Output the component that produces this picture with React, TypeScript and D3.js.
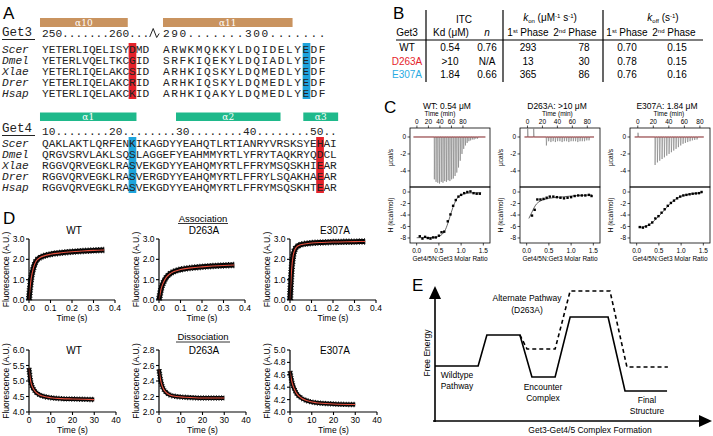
import React from "react";
import * as d3 from "d3";

const SANS = "'Liberation Sans', Arial, Helvetica, sans-serif";
const MONO = "'Liberation Mono', 'Courier New', monospace";
const RED = "#e5232b";
const BLUE = "#1ea4dc";
const TAN = "#c9935f";
const GREEN = "#1fb98b";
const FITRED = "#e5503e";

// ---------------- Panel A data ----------------
const speciesNames = ["Scer", "Dmel", "Xlae", "Drer", "Hsap"];
const get3NumberingA = "250.......260...";
const get3NumberingB = "290.......300.......";
const get3SeqA = ["YETERLIQELISYDMD", "YETERLVQELTKCGID", "YETERLIQELAKCSID", "YETERLIQELAKCRID", "YETERLIQELAKCKID"];
const get3SeqB = ["ARWKMQKKYLDQIDELYEDF", "SRFKIQEKYLDQIADLYEDF", "ARHKIQSKYLDQMEDLYEDF", "ARHKIQSKYLDQMEDLYEDF", "ARHKIQAKYLDQMEDLYEDF"];
const get4Numbering = "10........20........30........40........50..";
const get4Seqs = [
  "QAKLAKTLQRFENKIKAGDYYEAHQTLRTIANRYVRSKSYEHAI",
  "QRGVSRVLAKLSQSLAGGEFYEAHMMYRTLYFRYTAQKRYQDCL",
  "RGGVQRVEGKLRASVEKGDYYEAHQMYRTLFFRYMSQSKHIEAR",
  "RGGVQRVEGKLRASVERGDYYEAHQMYRTLFFRYLSQAKHAEAR",
  "RGGVQRVEGKLRASVEKGDYYEAHQMYRTLFFRYMSQSKHTEAR",
];
const get3HelixLabels = ["α10", "α11"];
const get3HelixBlock = [0, 1];
const get3HelixStart = [-0.3, 0];
const get3HelixEnd = [12.8, 15.8];
const get4HelixLabels = ["α1", "α2", "α3"];
const get4HelixStart = [-0.3, 20, 39];
const get4HelixEnd = [14.1, 35.6, 44.2];
const get3MarkBlock = [0, 1];
const get3MarkIndex = [13, 17];
const get3MarkColor = [RED, BLUE];
const get4MarkIndex = [13, 41];
const get4MarkColor = [BLUE, RED];

// ---------------- Panel B data ----------------
const tableVariants = ["WT", "D263A", "E307A"];
const tableVariantColors = ["#000", RED, "#29abe2"];
const tableKd = ["0.54", ">10", "1.84"];
const tableN = ["0.76", "N/A", "0.66"];
const tableKon1 = ["293", "13", "365"];
const tableKon2 = ["78", "30", "86"];
const tableKoff1 = ["0.70", "0.78", "0.76"];
const tableKoff2 = ["0.15", "0.15", "0.16"];

// ---------------- Panel C data ----------------
const itcTitles = ["WT: 0.54 μM", "D263A: >10 μM", "E307A: 1.84 μM"];
const timeTicks = [0, 20, 40, 60, 80];
const ratioTicks = [0, 0.5, 1.0, 1.5];
const powerTicks = [0, -2, -4];
const heatTicks = [0, -2, -4, -6, -8];

const wtInjTimes = [30, 33, 36, 39, 42, 45, 48, 51, 54, 57, 60, 63, 66, 69, 72, 75, 78, 81, 84, 87, 90, 93, 96, 99, 102, 105];
const wtInjDepths = [-5.0, -5.3, -5.4, -5.5, -5.3, -5.4, -5.2, -5.3, -5.1, -5.2, -5.0, -4.9, -4.6, -4.2, -3.6, -2.8, -2.0, -1.4, -1.0, -0.7, -0.5, -0.4, -0.3, -0.3, -0.2, -0.2];
const d263InjTimes = [0, 8, 25, 28, 31, 34, 37, 40, 43, 46, 49, 52, 55, 58, 61, 64, 67, 70, 73, 76, 79, 82];
const d263InjDepths = [1.2, 1.0, -1.0, -0.5, -0.6, -0.5, -0.6, -0.5, -0.5, -0.6, -0.5, -0.5, -0.6, -0.5, -0.5, -0.5, -0.6, -0.5, -0.5, -0.5, -0.4, -0.4];
const e307InjTimes = [0, 22, 25, 28, 31, 34, 37, 40, 43, 46, 49, 52, 55, 58, 61, 64, 67, 70, 73, 76];
const e307InjDepths = [0.5, -3.3, -3.0, -2.8, -2.6, -2.4, -2.2, -2.0, -1.8, -1.6, -1.4, -1.2, -1.0, -0.8, -0.7, -0.6, -0.5, -0.4, -0.35, -0.3];

const wtRatio = [0.07, 0.13, 0.19, 0.25, 0.31, 0.37, 0.43, 0.5, 0.56, 0.62, 0.7, 0.76, 0.82, 0.88, 0.94, 1.0, 1.07, 1.14, 1.21, 1.28, 1.35, 1.42];
const wtHeat = [-7.7, -8.1, -7.8, -8.0, -8.1, -7.9, -7.9, -7.6, -7.0, -6.9, -5.1, -3.9, -2.4, -1.4, -0.8, -0.5, -0.2, 0.0, 0.1, -0.2, -0.3, -0.3];
const wtFitRatio = [0.0, 0.4, 0.55, 0.65, 0.72, 0.78, 0.85, 0.92, 1.0, 1.1, 1.25, 1.45];
const wtFitHeat = [-7.95, -7.9, -7.5, -6.5, -5.0, -3.5, -2.0, -1.0, -0.5, -0.25, -0.15, -0.1];

const d263Ratio = [0.12, 0.18, 0.24, 0.31, 0.38, 0.45, 0.52, 0.6, 0.68, 0.76, 0.84, 0.92, 1.0, 1.08, 1.16, 1.24, 1.32, 1.4, 1.46];
const d263Heat = [-4.1, -3.1, -1.3, -1.3, -1.2, -1.0, -0.8, -0.8, -0.9, -1.0, -1.1, -1.0, -0.9, -0.7, -0.6, -0.6, -0.6, -0.5, -0.7];
const d263FitRatio = [0.05, 0.1, 0.15, 0.2, 0.3, 0.4, 0.6, 0.8, 1.0, 1.2, 1.47];
const d263FitHeat = [-4.6, -3.8, -3.0, -2.3, -1.6, -1.3, -1.0, -0.85, -0.7, -0.6, -0.5];

const e307Ratio = [0.07, 0.14, 0.21, 0.28, 0.35, 0.42, 0.49, 0.56, 0.63, 0.7, 0.77, 0.84, 0.91, 0.98, 1.05, 1.12, 1.19, 1.26, 1.33, 1.4, 1.46];
const e307Heat = [-6.1, -6.2, -6.0, -5.7, -5.3, -4.6, -4.2, -3.6, -3.0, -2.4, -1.9, -1.5, -1.1, -0.8, -0.6, -0.5, -0.4, -0.3, -0.25, -0.2, 0.0];
const e307FitRatio = [0.05, 0.15, 0.25, 0.35, 0.45, 0.55, 0.65, 0.75, 0.85, 0.95, 1.05, 1.2, 1.46];
const e307FitHeat = [-6.15, -6.05, -5.8, -5.3, -4.6, -3.8, -2.9, -2.1, -1.4, -0.9, -0.6, -0.35, -0.15];

// ---------------- Panel D data ----------------
const wtAssocT = [0, 0.005, 0.01, 0.02, 0.03, 0.04, 0.05, 0.07, 0.1, 0.15, 0.2, 0.25, 0.3, 0.35];
const wtAssocF = [0, 0.6, 1.05, 1.55, 1.85, 2.0, 2.08, 2.17, 2.25, 2.32, 2.37, 2.41, 2.44, 2.46];
const d263AssocT = [0, 0.005, 0.01, 0.02, 0.03, 0.05, 0.07, 0.1, 0.15, 0.2, 0.25, 0.3, 0.35];
const d263AssocF = [0, 0.3, 0.55, 0.85, 1.05, 1.28, 1.4, 1.5, 1.58, 1.63, 1.67, 1.7, 1.72];
const e307AssocT = [0, 0.005, 0.01, 0.015, 0.02, 0.03, 0.05, 0.1, 0.15, 0.2, 0.3, 0.35];
const e307AssocF = [0, 1.1, 1.8, 2.2, 2.4, 2.6, 2.72, 2.8, 2.83, 2.85, 2.87, 2.88];
const wtDissT = [0, 0.5, 1, 2, 3, 5, 7, 10, 15, 20, 30];
const wtDissF = [5.42, 5.1, 4.92, 4.75, 4.65, 4.55, 4.5, 4.46, 4.43, 4.42, 4.4];
const d263DissT = [0, 0.5, 1, 2, 3, 5, 8, 12, 20, 30];
const d263DissF = [2.55, 2.45, 2.38, 2.3, 2.26, 2.22, 2.2, 2.19, 2.18, 2.18];
const e307DissT = [0, 0.5, 1, 2, 3, 5, 8, 12, 20, 30];
const e307DissF = [4.66, 4.55, 4.47, 4.37, 4.3, 4.23, 4.18, 4.15, 4.13, 4.12];
const assocXTicks = [0, 0.1, 0.2, 0.3, 0.4];
const assocYTicks = [0, 1, 2, 3];
const dissXTicks = [0, 10, 20, 30, 40];
const wtDissYTicks = [4.0, 4.5, 5.0, 5.5, 6.0];
const d263DissYTicks = [2.0, 2.2, 2.4, 2.6, 2.8];
const e307DissYTicks = [4.0, 4.2, 4.4, 4.6, 4.8, 5.0];

// ---------------- Panel E data ----------------
const wtPathX = [0, 15.8, 19, 31.1, 35.5, 44, 49.5, 63.4, 69.6, 85];
const wtPathY = [41.5, 41.5, 65.4, 65.4, 33.1, 33.1, 79.2, 79.2, 22.3, 22.3];
const altPathX = [31.1, 33.7, 44, 49.5, 64.1, 70.3, 85.3];
const altPathY = [65.4, 54.6, 54.6, 99.2, 99.2, 40.8, 40.8];

function zip(xs: number[], ys: number[]) {
  return xs.map((x, i) => [x, ys[i]] as [number, number]);
}

// ============ Panel A ============
function PanelA() {
  const cw = 6.7;
  const cw2 = 8.2;
  const xA = d3.scaleLinear().domain([0, 1]).range([42, 42 + cw]);
  const xB = d3.scaleLinear().domain([0, 1]).range([163, 163 + cw2]);
  const blockX = [xA, xB];
  const blockW = [cw, cw2];
  const row3 = d3.scaleLinear().domain([0, 4]).range([53, 97]);
  const row4 = d3.scaleLinear().domain([0, 4]).range([147, 191]);
  const fs = cw / 0.6;
  const seqText = (s: string, x: number, y: number, key: string, w = cw, italic = false) => (
    <text key={key} x={x} y={y} fontFamily={MONO} fontSize={fs} fontStyle={italic ? "italic" : "normal"} textLength={s.length * w - (w - cw)} lengthAdjust="spacing" fill="#222">
      {s}
    </text>
  );
  return (
    <g>
      <text x={3} y={19} fontSize={17} fontFamily={SANS}>A</text>
      {get3HelixLabels.map((l, i) => {
        const sc = blockX[get3HelixBlock[i]];
        const x0 = sc(get3HelixStart[i]);
        const x1 = sc(get3HelixEnd[i]);
        return (
          <g key={l}>
            <rect x={x0} y={18} width={x1 - x0} height={9} fill={TAN} />
            <text x={(x0 + x1) / 2} y={25.5} textAnchor="middle" fontSize={9} fontFamily="'DejaVu Serif', serif" fill="#fff">{l}</text>
          </g>
        );
      })}
      {get3MarkIndex.map((idx, i) => {
        const b = get3MarkBlock[i];
        const sc = blockX[b];
        const w = blockW[b];
        return <rect key={i} x={sc(idx) + (w - cw) / 2 - 0.5} y={43} width={cw + 1} height={56} fill={get3MarkColor[i]} />;
      })}
      <text x={2} y={36} fontFamily={MONO} fontSize={12.5} fill="#222">Get3</text>
      <line x1={2} x2={35} y1={39.5} y2={39.5} stroke="#222" strokeWidth={1} />
      {seqText(get3NumberingA, xA(0), 37, "n3a")}
      <polyline points={`${xA(16) + 0.5},37 ${xA(16) + 4},28.5 ${xA(16) + 7.5},37.5 ${xA(16) + 10},33.5`} fill="none" stroke="#222" strokeWidth={1} />
      {seqText(get3NumberingB, xB(0), 37, "n3b", cw2)}
      {speciesNames.map((s, i) => seqText(s, 2, row3(i), "s3" + i, cw, true))}
      {get3SeqA.map((s, i) => seqText(s, xA(0), row3(i), "a" + i))}
      {get3SeqB.map((s, i) => seqText(s, xB(0), row3(i), "b" + i, cw2))}

      {get4HelixLabels.map((l, i) => {
        const x0 = xA(get4HelixStart[i]);
        const x1 = xA(get4HelixEnd[i]);
        return (
          <g key={l}>
            <rect x={x0} y={112.5} width={x1 - x0} height={8.5} fill={GREEN} />
            <text x={(x0 + x1) / 2} y={119.5} textAnchor="middle" fontSize={9} fontFamily="'DejaVu Serif', serif" fill="#fff">{l}</text>
          </g>
        );
      })}
      {get4MarkIndex.map((idx, i) => (
        <rect key={i} x={xA(idx) - 0.5} y={137} width={cw + 1} height={56} fill={get4MarkColor[i]} />
      ))}
      <text x={2} y={132} fontFamily={MONO} fontSize={12.5} fill="#222">Get4</text>
      <line x1={2} x2={35} y1={135.5} y2={135.5} stroke="#222" strokeWidth={1} />
      {seqText(get4Numbering, xA(0), 135, "n4")}
      {speciesNames.map((s, i) => seqText(s, 2, row4(i), "s4" + i, cw, true))}
      {get4Seqs.map((s, i) => seqText(s, xA(0), row4(i), "g4" + i))}
    </g>
  );
}

// ============ Panel B ============
function PanelB() {
  const fs = 10;
  const rowY = d3.scaleLinear().domain([0, 2]).range([51, 78]);
  const cols = [
    { x: 450, vals: tableKd },
    { x: 487, vals: tableN },
    { x: 528, vals: tableKon1 },
    { x: 584, vals: tableKon2 },
    { x: 627, vals: tableKoff1 },
    { x: 677, vals: tableKoff2 },
  ];
  return (
    <g fontFamily={SANS} fontSize={fs}>
      <text x={393} y={19} fontSize={17}>B</text>
      {[426, 503, 603].map((x) => (
        <line key={x} x1={x} x2={x} y1={10} y2={82} stroke="#000" strokeWidth={1.2} />
      ))}
      <line x1={396} x2={703} y1={40} y2={40} stroke="#000" strokeWidth={1.2} />
      <text x={464} y={23} textAnchor="middle">ITC</text>
      <text x={550} y={21} textAnchor="middle">
        <tspan fontStyle="italic">k</tspan>
        <tspan fontSize={6} dy={2}>on</tspan>
        <tspan dy={-2}> (μM</tspan>
        <tspan fontSize={6} dy={-3}>-1</tspan>
        <tspan dy={3}> s</tspan>
        <tspan fontSize={6} dy={-3}>-1</tspan>
        <tspan dy={3}>)</tspan>
      </text>
      <text x={663} y={21} textAnchor="middle">
        <tspan fontStyle="italic">k</tspan>
        <tspan fontSize={6} dy={2}>off</tspan>
        <tspan dy={-2}> (s</tspan>
        <tspan fontSize={6} dy={-3}>-1</tspan>
        <tspan dy={3}>)</tspan>
      </text>
      <text x={407} y={36} textAnchor="middle">Get3</text>
      <text x={451} y={36} textAnchor="middle">Kd (μM)</text>
      <text x={487} y={36} textAnchor="middle" fontStyle="italic">n</text>
      {[
        { x: 528, s: "st" },
        { x: 575, s: "nd" },
        { x: 627, s: "st" },
        { x: 674, s: "nd" },
      ].map((h, i) => (
        <text key={i} x={h.x} y={36} textAnchor="middle">
          <tspan>{h.s === "st" ? "1" : "2"}</tspan>
          <tspan fontSize={6} dy={-3}>{h.s}</tspan>
          <tspan dy={3}> Phase</tspan>
        </text>
      ))}
      {tableVariants.map((v, i) => (
        <text key={v} x={407} y={rowY(i)} textAnchor="middle" fill={tableVariantColors[i]}>{v}</text>
      ))}
      {cols.map((c, ci) =>
        c.vals.map((v, i) => (
          <text key={ci + "-" + i} x={c.x} y={rowY(i)} textAnchor="middle">{v}</text>
        ))
      )}
    </g>
  );
}

// ============ Panel C ============
function ITC(props: {
  left: number; tDomain: [number, number]; title: string;
  injT: number[]; injD: number[]; ratio: number[]; heat: number[]; fitR: number[]; fitH: number[];
}) {
  const { left, tDomain, title, injT, injD, ratio, heat, fitR, fitH } = props;
  const W = 80;
  const topY0 = 128, midY = 187, botY = 243;
  const xT = d3.scaleLinear().domain(tDomain).range([left, left + W]);
  const xR = d3.scaleLinear().domain([-0.15, 1.65]).range([left, left + W]);
  const yP = d3.scaleLinear().domain([1.06, -5.9]).range([topY0, midY]);
  const yH = d3.scaleLinear().domain([0.87, -8.87]).range([midY, botY]);
  let raw = `M${xT(tDomain[0] + 6)},${yP(0)}`;
  injT.forEach((t, i) => {
    raw += `L${xT(t)},${yP(0)}L${xT(t + 0.3)},${Math.max(topY0 + 0.5, yP(injD[i]))}L${xT(t + 1.0)},${yP(0)}`;
  });
  raw += `L${xT(tDomain[1] - 8)},${yP(0)}`;
  const fitLine = d3.line<[number, number]>().x((d) => xR(d[0])).y((d) => yH(d[1])).curve(d3.curveMonotoneX);
  const fs = 6.5;
  return (
    <g fontFamily={SANS} fontSize={fs}>
      <text x={left + W / 2 - 3} y={109} textAnchor="middle" fontSize={8.5}>{title}</text>
      <text x={xT(40)} y={115.5} textAnchor="middle">Time (min)</text>
      {timeTicks.map((t) => (
        <g key={t}>
          <line x1={xT(t)} x2={xT(t)} y1={topY0} y2={topY0 - 2.5} stroke="#000" strokeWidth={0.7} />
          <text x={xT(t)} y={123.5} textAnchor="middle">{t}</text>
        </g>
      ))}
      <rect x={left} y={topY0} width={W} height={midY - topY0} fill="none" stroke="#000" strokeWidth={0.8} />
      <rect x={left} y={midY} width={W} height={botY - midY} fill="none" stroke="#000" strokeWidth={0.8} />
      <path d={raw} fill="none" stroke="#7a7a7a" strokeWidth={0.6} />
      <line x1={xT(tDomain[0] + 6)} x2={xT(tDomain[1] - 8)} y1={yP(0)} y2={yP(0)} stroke="#9b2226" strokeWidth={0.8} />
      {powerTicks.map((p) => (
        <g key={p}>
          <line x1={left} x2={left - 2.5} y1={yP(p)} y2={yP(p)} stroke="#000" strokeWidth={0.7} />
          <text x={left - 4} y={yP(p) + 2.3} textAnchor="end">{p === 0 ? "0" : p}</text>
        </g>
      ))}
      {heatTicks.map((p) => (
        <g key={p}>
          <line x1={left} x2={left - 2.5} y1={yH(p)} y2={yH(p)} stroke="#000" strokeWidth={0.7} />
          <text x={left - 4} y={yH(p) + 2.3} textAnchor="end">{p === 0 ? "0" : p}</text>
        </g>
      ))}
      <text transform={`translate(${left - 17},${(topY0 + midY) / 2}) rotate(-90)`} textAnchor="middle">μcal/s</text>
      <text transform={`translate(${left - 17},${(midY + botY) / 2}) rotate(-90)`} textAnchor="middle">H (kcal/mol)</text>
      {ratioTicks.map((r) => (
        <g key={r}>
          <line x1={xR(r)} x2={xR(r)} y1={botY} y2={botY + 2.5} stroke="#000" strokeWidth={0.7} />
          <text x={xR(r)} y={252.5} textAnchor="middle">{d3.format(".1f")(r)}</text>
        </g>
      ))}
      <text x={left + W / 2} y={261} textAnchor="middle">Get4/5N:Get3 Molar Ratio</text>
      <path d={fitLine(zip(fitR, fitH)) || ""} fill="none" stroke="#000" strokeWidth={0.6} />
      {ratio.map((r, i) => (
        <rect key={i} x={xR(r) - 1.2} y={yH(heat[i]) - 1.2} width={2.4} height={2.4} fill="#000" />
      ))}
    </g>
  );
}

function PanelC() {
  return (
    <g>
      <text x={384} y={113} fontSize={17} fontFamily={SANS}>C</text>
      <ITC left={410} tDomain={[-12, 127]} title={itcTitles[0]} injT={wtInjTimes} injD={wtInjDepths} ratio={wtRatio} heat={wtHeat} fitR={wtFitRatio} fitH={wtFitHeat} />
      <ITC left={520} tDomain={[-10, 97]} title={itcTitles[1]} injT={d263InjTimes} injD={d263InjDepths} ratio={d263Ratio} heat={d263Heat} fitR={d263FitRatio} fitH={d263FitHeat} />
      <ITC left={630} tDomain={[-10, 93]} title={itcTitles[2]} injT={e307InjTimes} injD={e307InjDepths} ratio={e307Ratio} heat={e307Heat} fitR={e307FitRatio} fitH={e307FitHeat} />
    </g>
  );
}

// ============ Panel D ============
function Kin(props: {
  left: number; top: number; bottom: number; width: number;
  xDomain: [number, number]; yDomain: [number, number];
  xTicks: number[]; yTicks: number[]; xFmt: string; yFmt: string;
  t: number[]; f: number[]; title: string; titleY: number; band: number;
}) {
  const { left, top, bottom, width, xDomain, yDomain, xTicks, yTicks, xFmt, yFmt, t, f, title, titleY, band } = props;
  const x = d3.scaleLinear().domain(xDomain).range([left, left + width]);
  const y = d3.scaleLinear().domain(yDomain).range([bottom, top]);
  const line = d3.line<[number, number]>().x((d) => x(d[0])).y((d) => y(d[1])).curve(d3.curveMonotoneX);
  const pts = zip(t, f);
  const fs = 8.5;
  return (
    <g fontFamily={SANS} fontSize={fs}>
      <text x={left + 45} y={titleY} textAnchor="middle" fontSize={10}>{title}</text>
      <path d={line(pts) || ""} fill="none" stroke="#000" strokeWidth={band} strokeLinejoin="round" />
      <path d={line(pts) || ""} fill="none" stroke="#111" strokeWidth={band + 1.4} strokeDasharray="1,1.6" />
      <path d={line(pts) || ""} fill="none" stroke={FITRED} strokeWidth={1.1} />
      <line x1={left} x2={left} y1={top} y2={bottom} stroke="#000" strokeWidth={1.2} />
      <line x1={left} x2={left + width} y1={bottom} y2={bottom} stroke="#000" strokeWidth={1.2} />
      {yTicks.map((v) => (
        <g key={v}>
          <line x1={left} x2={left - 3} y1={y(v)} y2={y(v)} stroke="#000" strokeWidth={1.1} />
          <text x={left - 4.5} y={y(v) + 3} textAnchor="end">{d3.format(yFmt)(v)}</text>
        </g>
      ))}
      {xTicks.map((v) => (
        <g key={v}>
          <line x1={x(v)} x2={x(v)} y1={bottom} y2={bottom + 3} stroke="#000" strokeWidth={1.1} />
          <text x={x(v)} y={bottom + 11} textAnchor="middle">{d3.format(xFmt)(v)}</text>
        </g>
      ))}
      <text x={left + width / 2} y={bottom + 20.5} textAnchor="middle">Time (s)</text>
      <text transform={`translate(${left - 20},${(top + bottom) / 2}) rotate(-90)`} textAnchor="middle">Fluorescence (A.U.)</text>
    </g>
  );
}

function PanelD() {
  const lefts = [29, 159, 290];
  return (
    <g>
      <text x={3} y={224} fontSize={17} fontFamily={SANS}>D</text>
      <text x={203} y={221.5} textAnchor="middle" fontSize={9.5} fontFamily={SANS}>Association</text>
      <line x1={178} x2={228} y1={223.5} y2={223.5} stroke="#000" strokeWidth={0.8} />
      <text x={203} y={340} textAnchor="middle" fontSize={9.5} fontFamily={SANS}>Dissociation</text>
      <line x1={176} x2={230} y1={342} y2={342} stroke="#000" strokeWidth={0.8} />
      <Kin left={lefts[0]} top={239} bottom={300} width={86} xDomain={[0, 0.4]} yDomain={[0, 3]} xTicks={assocXTicks} yTicks={assocYTicks} xFmt=".1f" yFmt=".1f" t={wtAssocT} f={wtAssocF} title="WT" titleY={234} band={5} />
      <Kin left={lefts[1]} top={239} bottom={300} width={86} xDomain={[0, 0.4]} yDomain={[0, 3]} xTicks={assocXTicks} yTicks={assocYTicks} xFmt=".1f" yFmt=".1f" t={d263AssocT} f={d263AssocF} title="D263A" titleY={234} band={5} />
      <Kin left={lefts[2]} top={239} bottom={300} width={86} xDomain={[0, 0.4]} yDomain={[0, 3]} xTicks={assocXTicks} yTicks={assocYTicks} xFmt=".1f" yFmt=".1f" t={e307AssocT} f={e307AssocF} title="E307A" titleY={234} band={5} />
      <Kin left={lefts[0]} top={350} bottom={412} width={87} xDomain={[0, 40]} yDomain={[4, 6]} xTicks={dissXTicks} yTicks={wtDissYTicks} xFmt="d" yFmt=".1f" t={wtDissT} f={wtDissF} title="WT" titleY={354} band={4} />
      <Kin left={lefts[1]} top={350} bottom={412} width={87} xDomain={[0, 40]} yDomain={[2, 2.8]} xTicks={dissXTicks} yTicks={d263DissYTicks} xFmt="d" yFmt=".1f" t={d263DissT} f={d263DissF} title="D263A" titleY={354} band={4} />
      <Kin left={lefts[2]} top={350} bottom={412} width={87} xDomain={[0, 40]} yDomain={[4, 5]} xTicks={dissXTicks} yTicks={e307DissYTicks} xFmt="d" yFmt=".1f" t={e307DissT} f={e307DissF} title="E307A" titleY={354} band={4} />
    </g>
  );
}

// ============ Panel E ============
function PanelE() {
  const x = d3.scaleLinear().domain([0, 100]).range([435, 708]);
  const y = d3.scaleLinear().domain([0, 100]).range([420, 290]);
  const line = d3.line<[number, number]>().x((d) => x(d[0])).y((d) => y(d[1]));
  const fs = 8.5;
  return (
    <g fontFamily={SANS} fontSize={fs}>
      <text x={412} y={291} fontSize={17}>E</text>
      <line x1={x(0)} x2={x(0)} y1={422} y2={297} stroke="#000" strokeWidth={1.6} />
      <polygon points={`${x(0)},286 ${x(0) - 6},299 ${x(0) + 6},299`} fill="#000" />
      <line x1={x(0) - 2} x2={700} y1={421} y2={421} stroke="#000" strokeWidth={1.6} />
      <polygon points={`712,421 699,415 699,427`} fill="#000" />
      <path d={line(zip(wtPathX, wtPathY)) || ""} fill="none" stroke="#000" strokeWidth={1.6} />
      <path d={line(zip(altPathX, altPathY)) || ""} fill="none" stroke="#000" strokeWidth={1.6} strokeDasharray="4,3" />
      <text transform={`translate(430,353) rotate(-90)`} textAnchor="middle">Free Energy</text>
      <text x={457} y={378} textAnchor="middle">Wildtype</text>
      <text x={457} y={389} textAnchor="middle">Pathway</text>
      <text x={527} y={301} textAnchor="middle">Alternate Pathway</text>
      <text x={527} y={313} textAnchor="middle">(D263A)</text>
      <text x={543} y={390} textAnchor="middle">Encounter</text>
      <text x={543} y={401} textAnchor="middle">Complex</text>
      <text x={647} y={403} textAnchor="middle">Final</text>
      <text x={647} y={414} textAnchor="middle">Structure</text>
      <text x={590} y={433} textAnchor="middle">Get3-Get4/5 Complex Formation</text>
    </g>
  );
}

export default function App() {
  return (
    <svg width={713} height={436} viewBox="0 0 713 436" style={{ position: "absolute", left: 0, top: 0, background: "#fff" }}>
      <rect width={713} height={436} fill="#fff" />
      <PanelA />
      <PanelB />
      <PanelC />
      <PanelD />
      <PanelE />
    </svg>
  );
}
